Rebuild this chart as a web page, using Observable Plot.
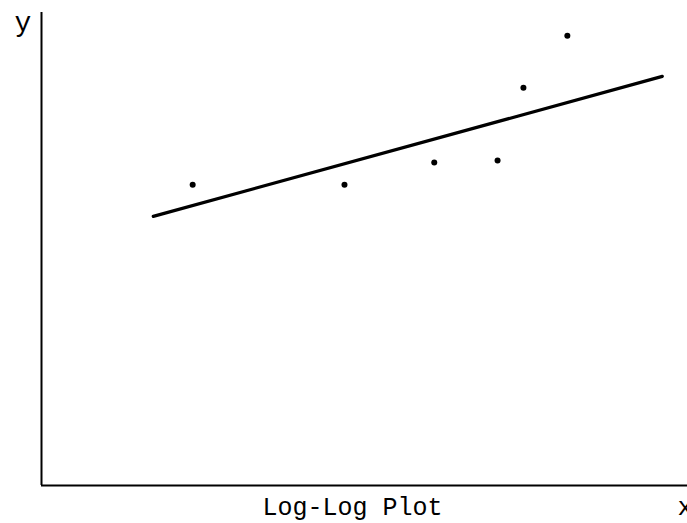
<!DOCTYPE html>
<html>
<head>
<meta charset="utf-8">
<script src="https://cdn.jsdelivr.net/npm/d3@7"></script>
<script src="https://cdn.jsdelivr.net/npm/@observablehq/plot@0.6"></script>
<style>
  html, body { margin: 0; padding: 0; background: #fff; }
</style>
</head>
<body>
<div id="chart"></div>
<script>
// log x, log y values (arbitrary units)
const logX = [2.34, 4.69, 6.08, 7.06, 7.46, 8.14];
const logY = [6.36, 6.36, 6.83, 6.87, 8.41, 9.51];
// fitted line end points
const fitX = [1.73, 9.61];
const fitY = [5.69, 8.65];
const titleText = "Log-Log Plot";
const xLabel = "x";
const yLabel = "y";

const points = logX.map((x, i) => ({x, y: logY[i]}));
const fit = fitX.map((x, i) => ({x, y: fitY[i]}));
const font = "'Courier New', Courier, 'Liberation Mono', monospace";

const chart = Plot.plot({
  width: 687,
  height: 523,
  marginLeft: 41,
  marginRight: 0,
  marginTop: 12,
  marginBottom: 38,
  style: {background: "#fff", fontFamily: font},
  x: {domain: [0, 10], axis: null},
  y: {domain: [0, 10], axis: null},
  marks: [
    Plot.ruleX([0], {stroke: "#000", strokeWidth: 2}),
    Plot.ruleY([0], {stroke: "#000", strokeWidth: 2}),
    Plot.line(fit, {x: "x", y: "y", stroke: "#000", strokeWidth: 3.2}),
    Plot.dot(points, {x: "x", y: "y", r: 3, fill: "#000", stroke: "none"}),
    Plot.text([yLabel], {frameAnchor: "top-left", dx: -27, dy: -1, lineAnchor: "top", fontSize: 28, fill: "#000", fontFamily: font}),
    Plot.text([xLabel], {frameAnchor: "bottom-right", dx: -10, dy: 29, textAnchor: "start", lineAnchor: "bottom", fontSize: 26, fill: "#000", fontFamily: font}),
    Plot.text([titleText], {frameAnchor: "bottom", dx: -12, dy: 29, lineAnchor: "bottom", fontSize: 25, fill: "#000", fontFamily: font})
  ]
});
document.getElementById("chart").appendChild(chart);
</script>
</body>
</html>
